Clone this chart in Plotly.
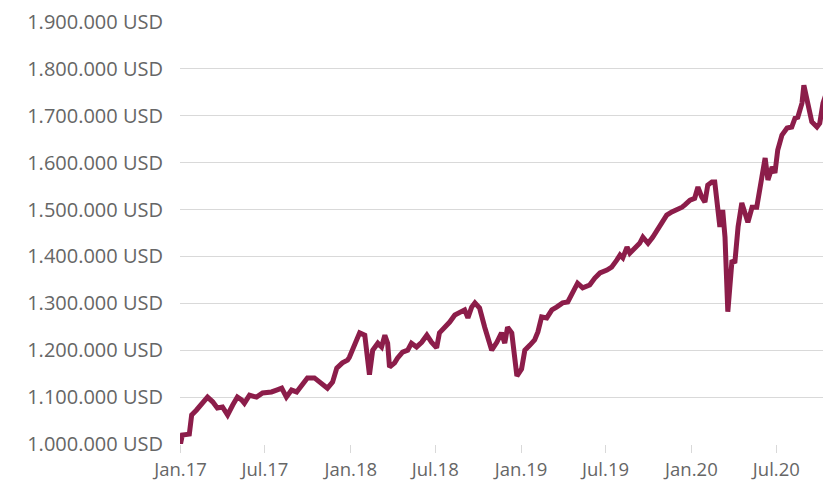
import plotly.graph_objects as go

# Portfolio value over time (weekly-ish observations)
dates = [
    "2017-01-01", "2017-01-05", "2017-01-20", "2017-01-25", "2017-02-04", "2017-02-17",
    "2017-02-28", "2017-03-11", "2017-03-21", "2017-04-01", "2017-04-12", "2017-04-23",
    "2017-05-03", "2017-05-12", "2017-05-18", "2017-05-29", "2017-06-13", "2017-06-26",
    "2017-07-15", "2017-07-26", "2017-08-06", "2017-08-16", "2017-08-27", "2017-09-07",
    "2017-09-18", "2017-09-30", "2017-10-15", "2017-10-30", "2017-11-12", "2017-11-23",
    "2017-12-02", "2017-12-14", "2017-12-25", "2017-12-29", "2018-01-09", "2018-01-20",
    "2018-01-31", "2018-02-10", "2018-02-17", "2018-02-28", "2018-03-08", "2018-03-15",
    "2018-03-21", "2018-03-25", "2018-04-05", "2018-04-11", "2018-04-22", "2018-05-03",
    "2018-05-11", "2018-05-22", "2018-06-02", "2018-06-13", "2018-06-23", "2018-07-04",
    "2018-07-10", "2018-07-21", "2018-08-01", "2018-08-12", "2018-08-22", "2018-09-02",
    "2018-09-09", "2018-09-17", "2018-09-24", "2018-10-04", "2018-10-15", "2018-10-30",
    "2018-11-10", "2018-11-20", "2018-11-27", "2018-12-03", "2018-12-12", "2018-12-18",
    "2018-12-23", "2019-01-02", "2019-01-09", "2019-01-20", "2019-01-30", "2019-02-06",
    "2019-02-14", "2019-02-25", "2019-03-08", "2019-03-18", "2019-03-31", "2019-04-11",
    "2019-04-22", "2019-05-02", "2019-05-13", "2019-05-28", "2019-06-08", "2019-06-19",
    "2019-07-04", "2019-07-14", "2019-07-25", "2019-08-01", "2019-08-07", "2019-08-16",
    "2019-08-22", "2019-09-02", "2019-09-12", "2019-09-19", "2019-09-30", "2019-10-10",
    "2019-10-19", "2019-10-30", "2019-11-09", "2019-11-20", "2019-12-01", "2019-12-12",
    "2019-12-18", "2019-12-29", "2020-01-08", "2020-01-15", "2020-01-23", "2020-01-30",
    "2020-02-05", "2020-02-14", "2020-02-20", "2020-02-27", "2020-03-02", "2020-03-08",
    "2020-03-13", "2020-03-19", "2020-03-28", "2020-04-03", "2020-04-10", "2020-04-18",
    "2020-04-25", "2020-05-01", "2020-05-10", "2020-05-20", "2020-05-31", "2020-06-07",
    "2020-06-13", "2020-06-22", "2020-06-28", "2020-07-04", "2020-07-13", "2020-07-24",
    "2020-08-03", "2020-08-10", "2020-08-16", "2020-08-25", "2020-08-29", "2020-09-05",
    "2020-09-15", "2020-09-26", "2020-10-02", "2020-10-09", "2020-10-15",
]

values = [
    1000000, 1019000, 1021000, 1062000, 1072000, 1087000,
    1100000, 1090000, 1077000, 1079000, 1062000, 1083000,
    1100000, 1094000, 1087000, 1104000, 1100000, 1109000,
    1111000, 1115000, 1119000, 1100000, 1115000, 1111000,
    1126000, 1141000, 1141000, 1130000, 1119000, 1132000,
    1162000, 1173000, 1179000, 1185000, 1211000, 1237000,
    1232000, 1148000, 1200000, 1215000, 1207000, 1232000,
    1215000, 1164000, 1173000, 1183000, 1196000, 1200000,
    1215000, 1207000, 1217000, 1232000, 1217000, 1205000,
    1237000, 1247000, 1260000, 1275000, 1279000, 1286000,
    1269000, 1292000, 1301000, 1290000, 1249000, 1200000,
    1217000, 1237000, 1215000, 1249000, 1237000, 1185000,
    1145000, 1160000, 1200000, 1211000, 1222000, 1239000,
    1271000, 1269000, 1286000, 1292000, 1301000, 1303000,
    1322000, 1343000, 1333000, 1339000, 1354000, 1365000,
    1371000, 1377000, 1392000, 1403000, 1397000, 1420000,
    1407000, 1418000, 1428000, 1441000, 1428000, 1441000,
    1456000, 1471000, 1488000, 1495000, 1499000, 1505000,
    1510000, 1520000, 1524000, 1548000, 1527000, 1516000,
    1552000, 1559000, 1559000, 1484000, 1463000, 1499000,
    1441000, 1282000, 1392000, 1386000, 1463000, 1514000,
    1495000, 1473000, 1505000, 1505000, 1569000, 1610000,
    1563000, 1591000, 1578000, 1627000, 1659000, 1674000,
    1676000, 1695000, 1697000, 1727000, 1765000, 1727000,
    1687000, 1676000, 1684000, 1727000, 1745000,
]

y_tickvals = [1000000, 1100000, 1200000, 1300000, 1400000,
              1500000, 1600000, 1700000, 1800000, 1900000]
y_ticktext = ["1.000.000 USD", "1.100.000 USD", "1.200.000 USD", "1.300.000 USD",
              "1.400.000 USD", "1.500.000 USD", "1.600.000 USD", "1.700.000 USD",
              "1.800.000 USD", "1.900.000 USD"]

x_tickvals = ["2017-01-01", "2017-07-01", "2018-01-01", "2018-07-01",
              "2019-01-01", "2019-07-01", "2020-01-01", "2020-07-01"]
x_ticktext = ["Jan.17", "Jul.17", "Jan.18", "Jul.18",
              "Jan.19", "Jul.19", "Jan.20", "Jul.20"]

LINE_COLOR = "#8c1d4a"
TEXT_COLOR = "#666666"
GRID_COLOR = "#d9d9d9"
FONT = "Open Sans"

fig = go.Figure(
    go.Scatter(
        x=dates,
        y=values,
        mode="lines",
        line=dict(color=LINE_COLOR, width=5),
        hoverinfo="x+y",
    )
)

fig.update_layout(
    width=823,
    height=485,
    margin=dict(l=180, r=0, t=22, b=41, autoexpand=False),
    paper_bgcolor="white",
    plot_bgcolor="white",
    showlegend=False,
    font=dict(family=FONT, size=20, color=TEXT_COLOR),
)

fig.update_xaxes(
    range=["2016-12-31", "2020-10-09"],
    tickvals=x_tickvals,
    ticktext=x_ticktext,
    ticks="outside",
    ticklen=8,
    tickcolor=GRID_COLOR,
    tickwidth=1,
    showgrid=False,
    showline=False,
    zeroline=False,
    automargin=False,
    ticklabelstandoff=1,
    tickfont=dict(size=18.5),
)

fig.update_yaxes(
    range=[1000000, 1900000],
    tickvals=y_tickvals,
    ticktext=y_ticktext,
    showgrid=True,
    gridcolor=GRID_COLOR,
    gridwidth=1,
    zeroline=False,
    showline=False,
    ticks="",
    automargin=False,
    ticklabelstandoff=16,
    tickfont=dict(size=20),
)

fig.write_html("out.html")
